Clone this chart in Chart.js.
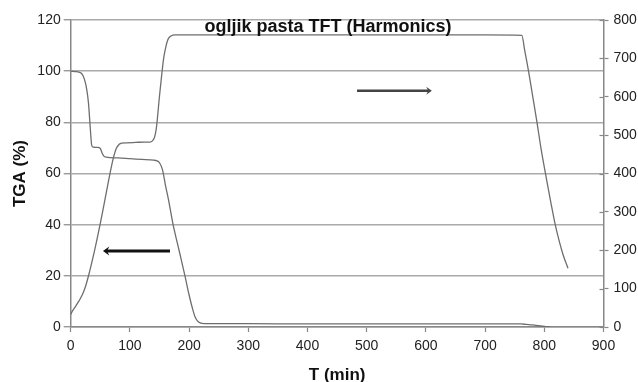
<!DOCTYPE html>
<html>
<head>
<meta charset="utf-8">
<script src="https://cdn.jsdelivr.net/npm/chart.js@4.4.1/dist/chart.umd.min.js"></script>
<style>
html,body{margin:0;padding:0;background:#fff;}
#wrap{width:638px;height:382px;}
</style>
</head>
<body>
<div id="wrap"><canvas id="c" width="638" height="382"></canvas></div>
<script>
// ---- data ----
const chartTitle = 'ogljik pasta TFT (Harmonics)';
const xTitle = 'T (min)';
const yTitle = 'TGA (%)';

const tgaTime = [0,10,18,23,27,30,33,35.5,38,45,50,53,56,60,80,100,120,140,145,150,155,160,165,173,183,193,200,206,210,214,218,222,230,300,400,500,600,700,760,770,780,790,800,810];
const tgaValues = [100,99.8,99.2,97,93,87.6,78,71,70.3,70.2,69.8,68,66.8,66.4,66.1,65.8,65.5,65.2,65,64.2,61.5,55.5,50,40,30,20,12.5,7,4,2.4,1.7,1.4,1.3,1.3,1.2,1.2,1.2,1.2,1.2,1.0,0.8,0.5,0.2,0];

const tempTime = [0,3,7,14,19,24,30,40,49.5,58,66,72,77,82,86,95,110,125,134,138,141,143,145,150,154,157,160,163,166,170,176,300,500,700,762,767,773,780,787,795,804,811,818,825,832,840];
const tempValues = [33,42,51,68,82,101,133,197,266,333,397,440,465,476,479,480,481,482,482,485,492,503,522,602,661,700,725,744,754,759,761,761,761,761,760,720,670,605,540,460,383,325,270,225,187,153];

// arrows in data units: [xStart, xEnd, yLeftAxisValue]
const arrowLeft = [167.7, 54.5, 29.7];
const arrowRight = [483.6, 610, 92.3];

const xTicksMax = 900, leftMax = 120, rightMax = 800;

const FONT = 'Arial, "Liberation Sans", sans-serif';

const overlay = {
  id: 'overlay',
  afterDatasetsDraw(chart) {
    const ctx = chart.ctx;
    const xs = chart.scales.x, ys = chart.scales.y;
    const yr = chart.scales.y2;
    ctx.save();
    // inner half of right axis ticks
    ctx.strokeStyle = '#888';
    ctx.lineWidth = 1.2;
    yr.ticks.forEach((t) => {
      const py = Math.round(yr.getPixelForValue(t.value)) + 0.5;
      ctx.beginPath();
      ctx.moveTo(yr.left - 4, py);
      ctx.lineTo(yr.left, py);
      ctx.stroke();
    });
    function arrow(a, color, w, head) {
      const x1 = xs.getPixelForValue(a[0]);
      const x2 = xs.getPixelForValue(a[1]);
      const y = ys.getPixelForValue(a[2]);
      const dir = Math.sign(x2 - x1);
      ctx.strokeStyle = color;
      ctx.fillStyle = color;
      ctx.lineWidth = w;
      ctx.beginPath();
      ctx.moveTo(x1, y);
      ctx.lineTo(x2 - dir * head * 0.8, y);
      ctx.stroke();
      ctx.beginPath();
      ctx.moveTo(x2, y);
      ctx.lineTo(x2 - dir * head * 1.4, y - head);
      ctx.lineTo(x2 - dir * head * 0.9, y);
      ctx.lineTo(x2 - dir * head * 1.4, y + head);
      ctx.closePath();
      ctx.fill();
    }
    arrow(arrowLeft, '#111', 3, 4.5);
    arrow(arrowRight, '#444', 2.5, 4);
    // title
    ctx.fillStyle = '#111';
    ctx.font = 'bold 18px ' + FONT;
    ctx.textAlign = 'center';
    ctx.textBaseline = 'alphabetic';
    ctx.fillText(chartTitle, 328, 32);
    ctx.restore();
  }
};

new Chart(document.getElementById('c'), {
  type: 'line',
  data: {
    datasets: [
      {
        label: 'TGA',
        data: tgaTime.map((t, i) => ({x: t, y: tgaValues[i]})),
        yAxisID: 'y',
        borderColor: '#6e6e6e',
        borderWidth: 1.3,
        pointRadius: 0,
        fill: false,
        cubicInterpolationMode: 'monotone'
      },
      {
        label: 'T',
        data: tempTime.map((t, i) => ({x: t, y: tempValues[i]})),
        yAxisID: 'y2',
        borderColor: '#6e6e6e',
        borderWidth: 1.3,
        pointRadius: 0,
        fill: false,
        cubicInterpolationMode: 'monotone'
      }
    ]
  },
  options: {
    responsive: false,
    animation: false,
    layout: {padding: {top: 20, left: 0, right: 0, bottom: 0}},
    plugins: {legend: {display: false}, tooltip: {enabled: false}, title: {display: false}},
    scales: {
      x: {
        type: 'linear', min: 0, max: xTicksMax,
        afterFit(s) { s.height = 55; },
        ticks: {stepSize: 100, color: '#222', font: {family: FONT, size: 14}, padding: 6, maxRotation: 0},
        grid: {drawOnChartArea: false, tickLength: 5, tickColor: '#888', tickWidth: 1.2},
        border: {color: '#888', width: 1.5},
        title: {display: true, text: xTitle, color: '#111', font: {family: FONT, size: 17, weight: 'bold'}, padding: {top: 0, bottom: -4}}
      },
      y: {
        position: 'left', min: 0, max: leftMax,
        afterFit(s) { s.width = 70.7; },
        ticks: {stepSize: 20, color: '#222', font: {family: FONT, size: 14}, padding: 3},
        grid: {color: '#aaa', lineWidth: 1.5, tickLength: 7, tickColor: '#888', tickWidth: 1.2},
        border: {color: '#888', width: 1.5},
        title: {display: true, text: yTitle, color: '#111', font: {family: FONT, size: 17, weight: 'bold'}, padding: {top: 10.5, bottom: 0}}
      },
      y2: {
        position: 'right', min: 0, max: rightMax,
        afterFit(s) { s.width = 34.5; },
        ticks: {stepSize: 100, color: '#222', font: {family: FONT, size: 14}, padding: 5},
        grid: {drawOnChartArea: false, tickLength: 5, tickColor: '#888', tickWidth: 1.2},
        border: {color: '#888', width: 1.5}
      }
    }
  },
  plugins: [overlay]
});
</script>
</body>
</html>
